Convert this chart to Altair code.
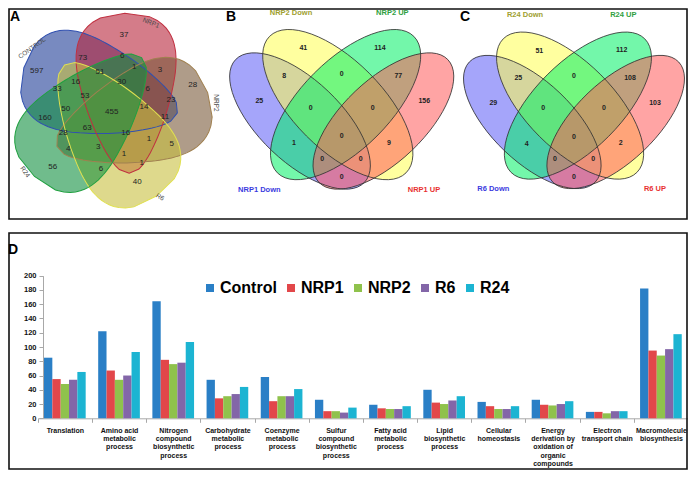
import altair as alt
import pandas as pd

FONT = "Liberation Sans"

# ---------------- Panel A : five-set Venn ----------------
a_sets = ["CONTROL", "NRP1", "NRP2", "R6", "R24"]
a_counts = [597, 37, 73, 6, 1, 3, 28, 51, 30, 16, 33, 6, 53, 23, 14, 50,
            455, 11, 160, 63, 28, 16, 1, 5, 4, 3, 1, 1, 56, 6, 40]
# label placement (layout, in page pixels)
a_count_x = [36.7, 124, 82.7, 122.3, 134.3, 160, 192.7, 100, 121.7, 75.7, 57.3, 147.7,
             85, 171, 144, 65.7, 111.7, 165, 45, 87.3, 63.3, 125.7, 149, 171.7, 68.3,
             98.3, 124, 141.7, 52.7, 101, 137.3]
a_count_y = [71, 35, 58.3, 56, 66.7, 70, 85, 71.7, 81.7, 81.7, 89.3, 89.3, 95.7, 100,
             106.7, 109, 111.7, 117.3, 118.3, 127.7, 133.3, 133.3, 139.3, 144, 149,
             147.3, 154, 162.7, 166.7, 169, 181.7]
a_blob_x = [100.6, 127.0, 132.3, 110.5, 88.0]
a_blob_y = [90.3, 93.3, 119.4, 130.5, 117.0]
a_blob_angle = [196.4, 268.4, 340.4, 55.0, 132.0]
a_fill = ["#1e3c96", "#b8243a", "#7a5a3a", "#c8c040", "#109040"]
a_stroke = ["#3050b0", "#c03040", "#a08050", "#e0e050", "#20a040"]
a_set_x = [32, 151, 216, 160, 25]
a_set_y = [48, 23, 103, 197, 172]
a_set_angle = [324, 22, 90, 30, 55]

# ---------------- Panel B / C : four-set Venn ----------------
b_sets = ["NRP1 Down", "NRP2 Down", "NRP2 UP", "NRP1 UP"]
c_sets = ["R6 Down", "R24 Down", "R24 UP", "R6 UP"]
b_counts = [41, 114, 8, 0, 77, 25, 0, 0, 156, 0, 1, 9, 0, 0, 0]
c_counts = [51, 112, 25, 0, 108, 29, 0, 0, 103, 0, 4, 2, 0, 0, 0]
b_count_x = [303.3, 380, 284.3, 341.7, 398.3, 259.3, 310.7, 372.7, 424.3, 341.7, 294, 389, 322.3, 360.7, 341.7]
b_count_y = [48.3, 48.3, 76, 74, 76, 101, 107.7, 107.7, 101, 135.7, 142.7, 142.7, 159, 159, 177.3]
c_count_x = [539.3, 621.7, 518.3, 574, 630, 493.3, 543.3, 604, 655, 574, 526.7, 620.7, 555, 593.3, 574]
c_count_y = [50.7, 50, 78.3, 76, 78.3, 102.7, 107.7, 108.3, 102.7, 136.7, 144, 143.3, 159, 159, 177.3]
b_ell_x = [300.0, 337.8, 345.6, 383.4]
b_ell_y = [121.0, 104.6, 104.6, 121.0]
c_ell_x = [532.3, 570.1, 577.9, 615.7]
c_ell_y = [122.0, 105.6, 105.6, 122.0]
ell_angle = [43.6, 45, 135, 136.4]
b_ell_a = [89, 96.5, 96.5, 89]
c_ell_a = [87, 94.5, 94.5, 87]
v4_fill = ["#5b5bf6", "#ffff50", "#00f064", "#ff5a5a"]
b_set_x = [259.3, 291, 392.3, 424]
b_set_y = [190, 13.3, 13.3, 190]
c_set_x = [493.3, 525, 623.3, 655]
c_set_y = [189.3, 15, 15, 189.3]
v4_label_col = ["#3a3ae0", "#a0a030", "#30a040", "#e83030"]

# ---------------- Panel D : bar chart ----------------
categories = ["Translation", "Amino acid|metabolic|process", "Nitrogen|compound|biosynthetic|process",
              "Carbohydrate|metabolic|process", "Coenzyme|metabolic|process",
              "Sulfur|compound|biosynthetic|process", "Fatty acid|metabolic|process",
              "Lipid|biosynthetic|process", "Cellular|homeostasis",
              "Energy|derivation by|oxidation of|organic|compounds", "Electron|transport chain",
              "Macromolecule|biosynthesis"]
series = ["Control", "NRP1", "NRP2", "R6", "R24"]
control = [85, 122, 164, 54, 58, 26, 19, 40, 23, 26, 9, 182]
nrp1 = [55, 67, 82, 28, 24, 10, 14, 22, 17, 19, 9, 95]
nrp2 = [48, 54, 76, 31, 31, 10, 13, 20, 13, 18, 7, 88]
r6 = [54, 60, 78, 34, 31, 8, 13, 25, 13, 20, 10, 97]
r24 = [65, 93, 107, 44, 41, 15, 17, 31, 17, 24, 10, 118]
bar_colors = ["#2a7fc6", "#e2474a", "#8fc24c", "#8366a8", "#1cb4d2"]


def egg_path(b=0.56, k=0.45, p=2.3, n=40):
    top, bot = [], []
    for i in range(n + 1):
        x = -1 + 2 * i / n
        w = b * max(0.0, 1 - abs(x) ** p) ** (1 / p) * (1 + k * x)
        top.append((x, -w))
        bot.append((x, w))
    pts = top + bot[::-1]
    return "M " + " L ".join(f"{x:.3f} {y:.3f}" for x, y in pts) + " Z"


def ellipse_path(r=0.46):
    c = 0.5523
    return (f"M -1 0 C -1 {-r*c:.3f} {-c:.3f} {-r} 0 {-r} C {c:.3f} {-r} 1 {-r*c:.3f} 1 0 "
            f"C 1 {r*c:.3f} {c:.3f} {r} 0 {r} C {-c:.3f} {r} -1 {r*c:.3f} -1 0 Z")


EGG = egg_path()
ELL = ellipse_path()

XS = alt.Scale(domain=[8, 688], nice=False, zero=False)
YS = alt.Scale(domain=[8, 470], nice=False, zero=False, reverse=True)
X = alt.X("x:Q", scale=XS, axis=None)
Y = alt.Y("y:Q", scale=YS, axis=None)

# boxes
box_df = pd.DataFrame({"x": [9, 9], "x2": [687, 687], "y": [9, 233], "y2": [219, 469]})
boxes = alt.Chart(box_df).mark_rect(fillOpacity=0, stroke="#111", strokeWidth=1.6).encode(
    x=X, x2="x2:Q", y=Y, y2="y2:Q")

# panel A blobs
a_df = pd.DataFrame({"x": a_blob_x, "y": a_blob_y, "ang": a_blob_angle,
                     "fill": a_fill, "stroke": a_stroke, "size": [4 * 80 ** 2] * 5})
a_fill_l = alt.Chart(a_df).mark_point(shape=EGG, filled=True, opacity=1, fillOpacity=0.6,
                                      strokeWidth=0).encode(
    x=X, y=Y, angle=alt.Angle("ang:Q", scale=None), size=alt.Size("size:Q", scale=None),
    fill=alt.Fill("fill:N", scale=None))
a_stroke_l = alt.Chart(a_df).mark_point(shape=EGG, filled=False, opacity=1, strokeWidth=1).encode(
    x=X, y=Y, angle=alt.Angle("ang:Q", scale=None), size=alt.Size("size:Q", scale=None),
    stroke=alt.Stroke("stroke:N", scale=None))

# panel B / C ellipses
v4_rows = []
for xs, ys, aa in [(b_ell_x, b_ell_y, b_ell_a), (c_ell_x, c_ell_y, c_ell_a)]:
    for i in range(4):
        v4_rows.append({"x": xs[i], "y": ys[i], "ang": ell_angle[i], "fill": v4_fill[i],
                        "size": 4 * aa[i] ** 2, "order": i})
v4_df = pd.DataFrame(v4_rows)
v4_fill_l = alt.Chart(v4_df).mark_point(shape=ELL, filled=True, opacity=1, fillOpacity=0.55,
                                        strokeWidth=0).encode(
    x=X, y=Y, angle=alt.Angle("ang:Q", scale=None), size=alt.Size("size:Q", scale=None),
    fill=alt.Fill("fill:N", scale=None), order="order:Q")
v4_stroke_l = alt.Chart(v4_df).mark_point(shape=ELL, filled=False, opacity=1, strokeWidth=0.8,
                                          stroke="#333333").encode(
    x=X, y=Y, angle=alt.Angle("ang:Q", scale=None), size=alt.Size("size:Q", scale=None))

# count labels
a_txt_df = pd.DataFrame({"x": a_count_x, "y": a_count_y, "t": [str(v) for v in a_counts]})
a_txt = alt.Chart(a_txt_df).mark_text(font=FONT, fontSize=8, fill="#222222").encode(
    x=X, y=Y, text="t:N")
bc_txt_df = pd.DataFrame({"x": b_count_x + c_count_x, "y": b_count_y + c_count_y,
                          "t": [str(v) for v in b_counts + c_counts]})
bc_txt = alt.Chart(bc_txt_df).mark_text(font=FONT, fontSize=7, fontWeight="bold",
                                        fill="#222222").encode(x=X, y=Y, text="t:N")

# set labels
a_set_df = pd.DataFrame({"x": a_set_x, "y": a_set_y, "t": a_sets, "ang": a_set_angle})
a_set_txt = alt.Chart(a_set_df).mark_text(font=FONT, fontSize=6.5, fill="#4a4a4a").encode(
    x=X, y=Y, text="t:N", angle=alt.Angle("ang:Q", scale=None))
v4_set_df = pd.DataFrame({"x": b_set_x + c_set_x, "y": b_set_y + c_set_y, "t": b_sets + c_sets,
                          "col": v4_label_col + v4_label_col})
v4_set_txt = alt.Chart(v4_set_df).mark_text(font=FONT, fontSize=7.5, fontWeight="bold").encode(
    x=X, y=Y, text="t:N", fill=alt.Fill("col:N", scale=None))

# panel letters
let_df = pd.DataFrame({"x": [15, 231, 465, 13], "y": [16.5, 16.5, 16.5, 250], "t": ["A", "B", "C", "D"]})
letters = alt.Chart(let_df).mark_text(font=FONT, fontSize=14, fontWeight="bold", fill="#000").encode(
    x=X, y=Y, text="t:N")

pixel_layers = alt.layer(boxes, a_fill_l, a_stroke_l, v4_fill_l, v4_stroke_l,
                         a_txt, bc_txt, a_set_txt, v4_set_txt, letters)

# bar chart
rows = []
for s, vals in zip(series, [control, nrp1, nrp2, r6, r24]):
    for c, v in zip(categories, vals):
        rows.append({"cat": c, "series": s, "value": v})
bar_df = pd.DataFrame(rows)

bars = alt.Chart(bar_df).mark_bar().encode(
    x=alt.X("cat:N", sort=categories, title=None,
            scale=alt.Scale(range=[29.75, 680], paddingInner=0, paddingOuter=0),
            axis=alt.Axis(orient="bottom", offset=-51.7, labelAngle=0, tickBand="extent",
                          labelExpr="split(datum.label, '|')", labelFont=FONT, labelFontSize=7,
                          labelFontWeight="bold", labelColor="#111", labelLineHeight=8.3,
                          labelBaseline="top", labelPadding=4, labelOverlap=False, labelLimit=0,
                          tickSize=4, domainColor="#a8a8a8", tickColor="#a8a8a8")),
    xOffset=alt.XOffset("series:N", sort=series,
                        scale=alt.Scale(paddingInner=0, paddingOuter=0.75)),
    y=alt.Y("value:Q", title=None,
            scale=alt.Scale(domain=[0, 200], range=[410.3, 267.7], nice=False),
            axis=alt.Axis(orient="left", offset=-35, values=list(range(0, 201, 20)), grid=False,
                          labelFont=FONT, labelFontSize=7.5, labelFontWeight="bold",
                          labelColor="#111", tickSize=4, labelPadding=3,
                          domainColor="#a8a8a8", tickColor="#a8a8a8")),
    color=alt.Color("series:N", sort=series,
                    scale=alt.Scale(domain=series, range=bar_colors),
                    legend=alt.Legend(orient="none", legendX=194, legendY=272, direction="horizontal",
                                      title=None, symbolType="square", symbolSize=64,
                                      symbolStrokeWidth=0, labelFont=FONT, labelFontSize=16,
                                      labelFontWeight="bold", labelColor="#000", labelOffset=2,
                                      columnPadding=6, padding=0))
)

chart = alt.layer(pixel_layers, bars).resolve_scale(x="independent", y="independent").properties(
    width=680, height=462, autosize=alt.AutoSizeParams(type="none"), padding=0
).configure_view(stroke=None)

chart.save("out.html", embed_options={"renderer": "svg", "actions": False})
